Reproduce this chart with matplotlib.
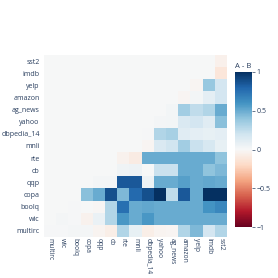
import numpy as np
import matplotlib
matplotlib.use("Agg")
import matplotlib.pyplot as plt

labels = ["multirc", "wic", "boolq", "copa", "qqp", "cb", "rte", "mnli",
          "dbpedia_14", "yahoo", "ag_news", "amazon", "yelp", "imdb", "sst2"]

# values of shown cells per row label (starting at the column with the same label)
row_sst2 = [-0.05]
row_imdb = [0.0, -0.12]
row_yelp = [-0.02, 0.38, 0.18]
row_amazon = [-0.02, 0.03, 0.10, 0.18]
row_ag_news = [0.03, 0.35, 0.25, 0.30, 0.50]
row_yahoo = [0.02, 0.03, 0.15, 0.18, 0.12, 0.42]
row_dbpedia_14 = [0.01, 0.30, 0.33, 0.12, 0.10, 0.08, 0.10]
row_mnli = [0.0, -0.02, 0.15, 0.20, 0.35, 0.22, 0.17, 0.08]
row_rte = [-0.04, -0.08, 0.50, 0.50, 0.50, 0.50, 0.50, 0.50, 0.40]
row_cb = [0.0, 0.04, 0.05, 0.0, 0.22, 0.22, 0.50, 0.50, 0.40, 0.45]
row_qqp = [0.02, 0.02, 0.85, 0.85, 0.05, 0.50, 0.50, 0.55, 0.50, 0.52, 0.50]
row_copa = [0.42, 0.50, 0.88, 0.45, 0.78, 0.88, 1.0, 0.25, 0.85, 0.50, 1.0, 1.0]
row_boolq = [0.01, 0.0, -0.01, 0.30, 0.75, 0.50, 0.52, 0.50, 0.50, 0.50, 0.50, 0.60, 0.65]
row_wic = [0.02, 0.01, -0.04, 0.07, 0.30, 0.58, 0.50, 0.58, 0.50, 0.50, 0.50, 0.50, 0.50, 0.50]
row_multirc = [0.01, 0.01, 0.02, 0.02, -0.03, -0.07, 0.30, 0.08, -0.07, -0.03, -0.02, 0.30, 0.45, 0.18, 0.30]

rows = {
    "multirc": row_multirc, "wic": row_wic, "boolq": row_boolq, "copa": row_copa,
    "qqp": row_qqp, "cb": row_cb, "rte": row_rte, "mnli": row_mnli,
    "dbpedia_14": row_dbpedia_14, "yahoo": row_yahoo, "ag_news": row_ag_news,
    "amazon": row_amazon, "yelp": row_yelp, "imdb": row_imdb, "sst2": row_sst2,
}

n = len(labels)
M = np.full((n, n), np.nan)
for i, lab in enumerate(labels):
    vals = rows[lab]
    M[i, n - len(vals):] = vals

W = H = 278
TXT = "#2a3f5f"
fig = plt.figure(figsize=(W / 100, H / 100), dpi=100)
fig.patch.set_facecolor("white")
cmap = plt.get_cmap("RdBu")

ax = fig.add_axes([44 / W, (H - 237) / H, 183 / W, 182 / H])
ax.set_facecolor(cmap(0.5))
mesh = ax.pcolormesh(np.arange(n + 1), np.arange(n + 1), M, cmap=cmap, vmin=-1, vmax=1)
ax.set_xlim(0, n)
ax.set_ylim(0, n)
for s in ax.spines.values():
    s.set_visible(False)
ax.set_xticks(np.arange(n) + 0.5)
ax.set_yticks(np.arange(n) + 0.5)
ax.set_xticklabels(labels, rotation=-90, fontsize=4.8, color=TXT, family="Open Sans")
ax.set_yticklabels(labels, fontsize=5, color=TXT, family="Open Sans")
ax.tick_params(axis="x", length=0, pad=1)
ax.tick_params(axis="y", length=0, pad=3)

cax = fig.add_axes([235 / W, (H - 227) / H, 17 / W, 155 / H])
cb = fig.colorbar(mesh, cax=cax)
cb.outline.set_visible(False)
cb.set_ticks([-1, -0.5, 0, 0.5, 1])
cb.set_ticklabels(["\u22121", "\u22120.5", "0", "0.5", "1"])
cax.tick_params(length=2, width=0.5, color=TXT, labelsize=5, labelcolor=TXT, pad=1)
for t in cax.get_yticklabels():
    t.set_family("Open Sans")
fig.text(235 / W, (H - 66) / H, "A - B", fontsize=5.5, color=TXT,
         family="Open Sans", ha="left", va="center")

fig.savefig("out.png", dpi=100)
